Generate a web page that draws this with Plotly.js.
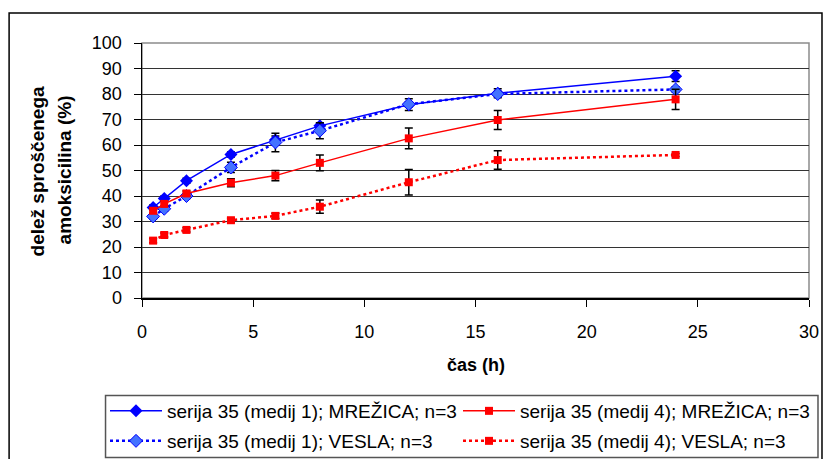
<!DOCTYPE html>
<html><head><meta charset="utf-8">
<script src="https://cdn.plot.ly/plotly-3.0.1.min.js"></script>
<style>html,body{margin:0;padding:0;background:#fff;}#chart{width:823px;height:459px;}</style>
</head><body><div id="chart"></div>
<script>
// ---- data ----
const time = [0.5, 1, 2, 4, 6, 8, 12, 16, 24];
const m1Mrezica    = [35.5, 39.0, 46.0, 56.3, 62.0, 67.5, 75.8, 80.3, 87.0];
const m1MrezicaErr = [1.0, 1.0, 1.0, 1.0, 1.5, 1.0, 2.3, 1.8, 2.1];
const m1Vesla      = [32.0, 35.0, 40.0, 51.2, 61.0, 65.6, 76.0, 80.0, 81.8];
const m1VeslaErr   = [1.0, 1.0, 1.0, 2.0, 3.6, 3.1, 1.0, 1.0, 1.0];
const m4Mrezica    = [34.2, 36.9, 41.0, 45.2, 48.0, 53.0, 62.6, 69.8, 77.9];
const m4MrezicaErr = [1.0, 1.0, 1.0, 1.6, 2.0, 3.1, 4.1, 3.7, 4.0];
const m4Vesla      = [22.5, 24.7, 26.7, 30.5, 32.2, 35.8, 45.4, 54.1, 56.1];
const m4VeslaErr   = [0.8, 0.8, 0.8, 0.8, 1.0, 2.6, 5.0, 3.6, 0.6];
const seriesNames = [
  'serija 35 (medij 1); MREŽICA; n=3',
  'serija 35 (medij 4); MREŽICA; n=3',
  'serija 35 (medij 1); VESLA; n=3',
  'serija 35 (medij 4); VESLA; n=3'
];
const xTitle = 'čas (h)';
const yTitleLines = ['delež sproščenega', 'amoksicilina (%)'];

// ---- geometry helpers (pixel -> paper / container) ----
const FW = 823, FH = 459;
const L = 141.5, R = 809, T = 43, B = 298.3;
const PW = R - L, PH = B - T;
const px = p => (p - L) / PW;
const py = p => (B - p) / PH;
const cx = p => p / FW;
const cy = p => 1 - p / FH;

const FONT = 'Arial, "Liberation Sans", sans-serif';
const errStyle = {type: 'data', visible: true, color: '#000', thickness: 1.5, width: 4};

function trace(name, y, err, color, dash, symbol, msize, mcolor, legend) {
  return {
    type: 'scatter', mode: 'lines+markers', name: name, x: time, y: y,
    line: {color: color, width: dash === 'solid' ? 1.5 : 2.5, dash: dash},
    marker: {symbol: symbol, size: msize, color: mcolor, line: {color: color, width: mcolor === color ? 0 : 1}},
    error_y: Object.assign({array: err}, errStyle),
    legend: legend
  };
}

const data = [
  trace(seriesNames[0], m1Mrezica, m1MrezicaErr, '#0000ff', 'solid', 'diamond', 10, '#0000ff', 'legend'),
  trace(seriesNames[2], m1Vesla, m1VeslaErr, '#0000ff', 'dot', 'diamond', 10, '#4472ff', 'legend3'),
  trace(seriesNames[1], m4Mrezica, m4MrezicaErr, '#ff0000', 'solid', 'square', 8, '#ff0000', 'legend2'),
  trace(seriesNames[3], m4Vesla, m4VeslaErr, '#ff0000', 'dot', 'square', 8, '#ff0000', 'legend4')
];

function leg(xp, yp) {
  return {
    orientation: 'h', xref: 'container', yref: 'container', xanchor: 'left', yanchor: 'middle',
    x: cx(xp), y: cy(yp), borderwidth: 0, bgcolor: 'rgba(0,0,0,0)', itemwidth: 52,
    font: {family: FONT, size: 19, color: '#000'}
  };
}

const layout = {
  width: FW, height: FH,
  margin: {l: L, r: FW - R, t: T, b: FH - B, pad: 0},
  paper_bgcolor: '#fff', plot_bgcolor: '#fff',
  font: {family: FONT, size: 18, color: '#000'},
  showlegend: true,
  legend: leg(105, 411),
  legend2: leg(458, 411),
  legend3: leg(105, 441),
  legend4: leg(458, 441),
  xaxis: {
    range: [0, 30], dtick: 5, tick0: 0, ticks: 'outside', ticklen: 7, tickwidth: 1, tickcolor: '#000',
    showline: true, linecolor: '#000', linewidth: 1.5, showgrid: false, zeroline: false,
    ticklabelstandoff: 10,
    tickfont: {family: FONT, size: 18, color: '#000'}, fixedrange: true
  },
  yaxis: {
    range: [0, 100], dtick: 10, tick0: 0, ticks: 'outside', ticklen: 7, tickwidth: 1, tickcolor: '#000',
    showline: true, linecolor: '#000', linewidth: 1.5, showgrid: true, gridcolor: '#333', gridwidth: 1,
    ticklabelstandoff: 8,
    zeroline: false, tickfont: {family: FONT, size: 18, color: '#000'}, fixedrange: true
  },
  shapes: [
    {type: 'rect', xref: 'paper', yref: 'paper', x0: 0, x1: 1, y0: 0, y1: 1, line: {color: '#8c8c8c', width: 1.5}, layer: 'below'},
    {type: 'rect', xref: 'paper', yref: 'paper', x0: px(8.5), x1: px(822), y0: py(13), y1: py(465), line: {color: '#000', width: 1.5}},
    {type: 'rect', xref: 'paper', yref: 'paper', x0: px(105), x1: px(818), y0: py(396), y1: py(458), line: {color: '#555', width: 1.5}}
  ],
  annotations: [
    {text: '<b>' + xTitle + '</b>', xref: 'paper', yref: 'paper', x: px(476), y: py(365), xanchor: 'center', yanchor: 'middle', showarrow: false, font: {family: FONT, size: 18, color: '#000'}},
    {text: '<b>' + yTitleLines[0] + '</b>', xref: 'paper', yref: 'paper', x: px(37), y: py(172), xanchor: 'center', yanchor: 'middle', textangle: -90, showarrow: false, font: {family: FONT, size: 19, color: '#000'}},
    {text: '<b>' + yTitleLines[1] + '</b>', xref: 'paper', yref: 'paper', x: px(64), y: py(170), xanchor: 'center', yanchor: 'middle', textangle: -90, showarrow: false, font: {family: FONT, size: 19, color: '#000'}}
  ]
};

Plotly.newPlot('chart', data, layout, {staticPlot: true, displayModeBar: false});
</script>
</body></html>
